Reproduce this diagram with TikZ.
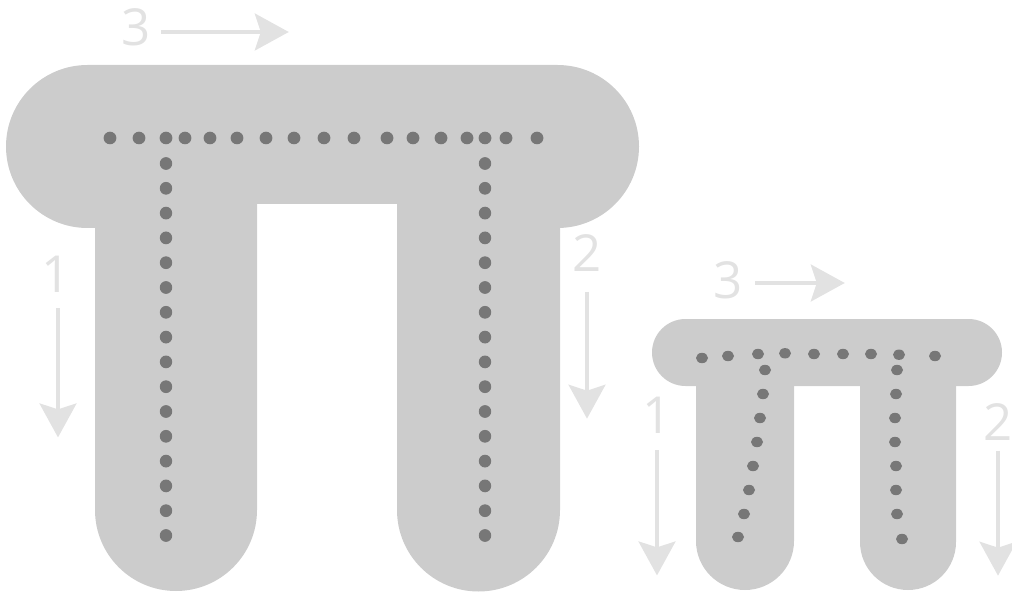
\documentclass[tikz,border=0pt]{standalone}
\usepackage{fontspec}
\setmainfont{Open Sans}
\usetikzlibrary{arrows.meta}
\definecolor{letterfill}{HTML}{CCCCCC}
\definecolor{dotgray}{HTML}{777777}
\definecolor{guidegray}{HTML}{E2E2E2}

\begin{document}
\begin{tikzpicture}[x=1pt,y=1pt,
  letter/.style={fill=letterfill},
  dotmark/.style={fill=dotgray},
  num/.style={text=guidegray,font=\fontsize{51}{51}\selectfont,inner sep=0pt},
  guide/.style={draw=guidegray,line width=3.2pt,
                -{Stealth[length=34pt,width=37pt,inset=6pt]}}
]
\useasboundingbox (0,0) rectangle (1012,598);
% big letter
\fill[letter] (87.5,533) -- (557.5,533) arc[start angle=90,end angle=-90,radius=81.5]
  -- (560,370) -- (560,88) arc[start angle=0,end angle=-180,radius=81.5]
  -- (397,394) -- (257,394) -- (257,88) arc[start angle=0,end angle=-180,radius=81]
  -- (95,370) -- (87.5,370) arc[start angle=270,end angle=90,radius=81.5] -- cycle;
% small letter
\fill[letter] (685.5,279) -- (968.5,279) arc[start angle=90,end angle=-90,radius=33.5]
  -- (685.5,212) arc[start angle=270,end angle=90,radius=33.5] -- cycle;
\fill[letter] (696,245.5) -- (794,245.5) -- (794,57)
  arc[start angle=0,end angle=-180,radius=49] -- cycle;
\fill[letter] (860,245.5) -- (956,245.5) -- (956,56)
  arc[start angle=0,end angle=-180,radius=48] -- cycle;
% dots, big letter
\foreach \x in {110,139,166,185,210,237,266,294,324,354,387,413,441,467,485,506,537}
  \fill[dotmark] (\x,460) ellipse[x radius=6.4,y radius=6.3];
\foreach \i in {0,...,15} {
  \fill[dotmark] (166,{434.5-24.8*\i}) ellipse[x radius=6.2,y radius=6.4];
  \fill[dotmark] (485,{434.5-24.8*\i}) ellipse[x radius=6.2,y radius=6.4];
}
% dots, small letter
\foreach \x/\y in {702/240,728/242,758/244,785/244.7,814/244,843/244,871/244,899/243.3,935/242,
                   765/228,763/204,760/180,757/156,753/132,749/108,744/84,738/61,
                   897/228,896/204,895/180,895/156,896/132,896/108,897/84,902/59}
  \fill[dotmark] (\x,\y) ellipse[x radius=6,y radius=5.2];
% stroke order
\node[num] (n3big) at (136,571) {3};
\node[num] (n1big) at (56,324) {1};
\node[num] (n2big) at (587,345) {2};
\node[num] (n3small) at (728,318) {3};
\node[num] (n1small) at (657,183) {1};
\node[num] (n2small) at (998,176) {2};
\draw[guide] ([shift={(10pt,-5pt)}]n3big.east) -- ++(128,0);
\draw[guide] ([shift={(2pt,-16pt)}]n1big.south) -- ++(0,-129);
\draw[guide] ([yshift=-20pt]n2big.south) -- ++(0,-127);
\draw[guide] ([shift={(12pt,-3pt)}]n3small.east) -- ++(90,0);
\draw[guide] ([yshift=-17pt]n1small.south) -- ++(0,-125);
\draw[guide] ([yshift=-10pt]n2small.south) -- ++(0,-125);
\end{tikzpicture}
\end{document}
